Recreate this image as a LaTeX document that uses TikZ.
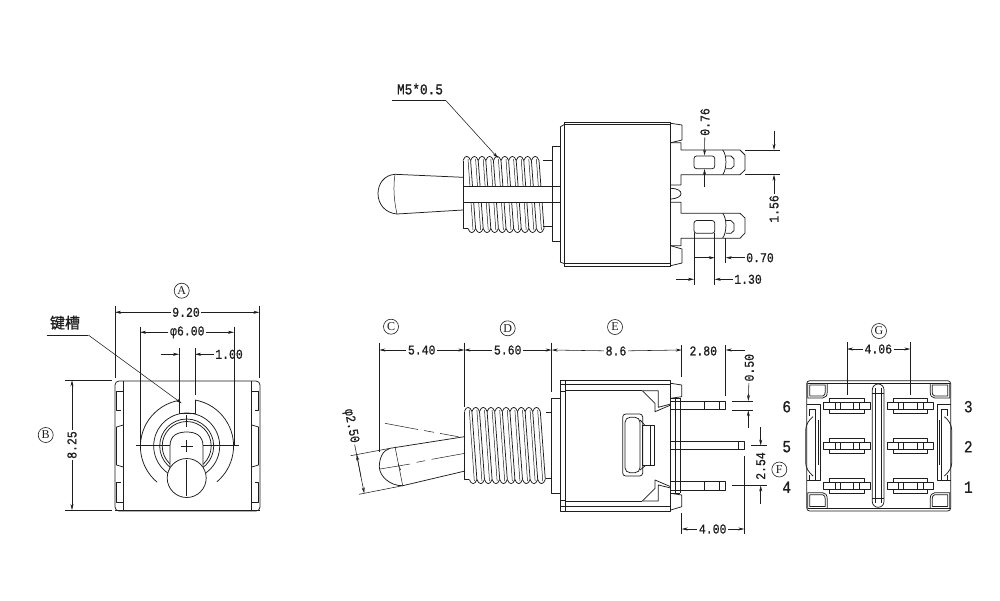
\documentclass[tikz,border=0pt]{standalone}
\usepackage{fontspec}
\setmainfont{Liberation Mono}[FakeBold=0.7,FakeStretch=0.85]
\newfontfamily\cjkfont{Noto Sans CJK SC}[FakeBold=1]
\newfontfamily\serifletter{Liberation Serif}
\usetikzlibrary{arrows.meta}
\definecolor{drawColor}{RGB}{30,30,30}
\tikzset{
  part/.style={draw=drawColor,line width=0.75pt,line join=round},
  thin part/.style={draw=drawColor,line width=0.5pt},
  extline/.style={draw=drawColor,line width=0.55pt},
  dimtip/.style={draw=drawColor,line width=0.55pt,-{Stealth[length=6pt,width=3pt]}},
  dimtext/.style={text=drawColor,inner sep=1.5pt,font=\fontsize{13.5}{13.5}\selectfont},
  pinno/.style={text=drawColor,inner sep=0pt,font=\fontsize{17}{17}\selectfont},
  circlab/.style={draw=drawColor,line width=0.6pt,circle,inner sep=0pt,minimum size=15pt,text=drawColor,font=\serifletter\fontsize{12}{12}\selectfont},
}
% thread: start x, top y, bottom y
\newcommand{\threadbody}[3]{
\foreach \t in {0,...,9} {
\path[part] ({#1+7.6*\t},#2+3.5) .. controls ({#1+7.6*\t+2},#2-2) and ({#1+7.6*\t+5.6},#2-2) .. ({#1+7.6*\t+7.6},#2+3.5);
\path[part] ({#1+7.6*\t+5},#3-3.5) .. controls ({#1+7.6*\t+7},#3+2) and ({#1+7.6*\t+10.6},#3+2) .. ({#1+7.6*\t+12.6},#3-3.5);
\path[part] ({#1+7.6*\t+7.6},#2+3.5) -- ({#1+7.6*\t+12.6},#3-3.5);
\path[thin part] ({#1+7.6*\t+5},#2+2) -- ({#1+7.6*\t+10},#3-2);
}
\path[part] (#1,#2+3.5) -- (#1,#3-3.5) -- (#1+5,#3-3.5);
}
\begin{document}
\begin{tikzpicture}[x=1pt,y=-1pt]
\path[use as bounding box,fill=white] (0,0) rectangle (1000,600);

% top view
\threadbody{463}{157}{232}
\path[part,fill=white] (463,186) rectangle (560,202.7);
\path[part] (543,160.7) -- (552,160.7);
\path[part] (543,226) -- (552,226);
\path[part] (552,146.7) rectangle (560,241.7);
\path[part] (395,174.3) .. controls (384,175) and (378,184) .. (378,193.5) .. controls (378,204) and (385,213) .. (397,214);
\path[thin part] (395,174.3) .. controls (393,187) and (394,201) .. (397,214);
\path[part] (395,174.3) -- (463,177.3);
\path[part] (397,214) -- (463,210);
\path[part] (560,127) -- (560,262);
\path[part] (564,122.3) -- (564,266);
\path[part] (560,127) -- (564,124.7);
\path[part] (560,262) -- (564,263.5);
\path[part] (564,122.3) -- (670.7,122.3);
\path[part] (564,124.7) -- (670.7,124.7);
\path[part] (564,263.5) -- (670.7,263.5);
\path[part] (564,266) -- (670.7,266);
\path[part] (670.7,122.3) -- (670.7,266);
\path[part] (670.7,123.3) -- (682,125) -- (682,140) -- (670.7,142.7);
\path[part] (670.7,245.7) -- (682,249) -- (682,263) -- (670.7,265.7);
\path[part] (670.7,142.7) -- (681,142.7) -- (681,150) -- (740,150) -- (745,155) -- (745,170) -- (740,174.7) -- (681,174.7) -- (681,185) -- (670.7,185);
\path[part] (670.7,188.3) .. controls (678,188.5) and (681,191) .. (681,193.5) .. controls (681,196) and (678,198.5) .. (670.7,199);
\path[part] (670.7,202.3) -- (681,202.3) -- (681,213.3) -- (740,213.3) -- (745,218) -- (745,233) -- (740,238.3) -- (681,238.3) -- (681,245.7) -- (670.7,245.7);
\foreach \yy in {0,63.3} {
\path[part,rounded corners=2.5pt] (694,156+\yy*1.02) rectangle (714.7,168.7+\yy*1.02);
\path[part] (726,156+\yy*1.02) -- (731,156+\yy*1.02) -- (734,159+\yy*1.02) -- (734,166+\yy*1.02) -- (731,168.7+\yy*1.02) -- (726,168.7+\yy*1.02);
\path[part] (722.7,150+\yy) .. controls (727,155+\yy) and (727,169+\yy) .. (722.7,174.7+\yy);
}
\node[dimtext,font=\fontsize{15}{15}\selectfont] (mfive) at (420,89) {M5*0.5};
\coordinate (mfivea) at (392,100.7);
\coordinate (mfiveb) at (446,100.7);
\coordinate (mfivec) at (498,158);
\path[extline] (mfivea) -- (mfiveb);
\path[dimtip] (mfiveb) -- (mfivec);
\node[dimtext,rotate=90] (dimslot) at (705,122) {0.76};
\coordinate (slottop) at (704.5,155.5);
\coordinate (slotlow) at (704.5,169);
\coordinate (slotend) at (704.5,187);
\path[dimtip] (dimslot) -- (slottop);
\path[dimtip] (slotend) -- (slotlow);
\node[dimtext,rotate=90] (dimtab) at (774,209) {1.56};
\coordinate (tabtop) at (774,150);
\coordinate (tablow) at (774,174.7);
\coordinate (tabend) at (774,130.7);
\path[extline] (745,150) -- (780,150);
\path[extline] (745,174.7) -- (780,174.7);
\path[dimtip] (tabend) -- (tabtop);
\path[dimtip] (dimtab) -- (tablow);
\node[dimtext] (dimgap) at (760,257.7) {0.70};
\node[dimtext] (dimhole) at (748,279.3) {1.30};
\coordinate (gapr) at (725.7,257.7);
\coordinate (gapl) at (714.7,257.7);
\coordinate (gaps) at (694,257.7);
\coordinate (holel) at (694,279.3);
\coordinate (holer) at (714.7,279.3);
\coordinate (holes) at (676,279.3);
\path[extline] (725.7,238) -- (725.7,263);
\path[extline] (694,233) -- (694,285);
\path[extline] (714.7,233) -- (714.7,285);
\path[dimtip] (dimgap) -- (gapr);
\path[dimtip] (gaps) -- (gapl);
\path[dimtip] (dimhole) -- (holer);
\path[dimtip] (holes) -- (holel);

% front view
\path[part,rounded corners=4pt] (115,381) rectangle (260,511);
\path[part] (115,510) -- (260,510);
\foreach \sx in {1,-1} {
\begin{scope}[shift={(187.5,0)},xscale=\sx]
\path[part] (-64.2,381) -- (-64.2,511);
\path[part] (-71,391) -- (-64.2,391);
\path[part] (-71,391) -- (-71,410) -- (-67,410);
\path[part] (-64.2,425) -- (-71,427) -- (-71,465) -- (-64.2,467);
\path[part] (-67,482) -- (-71,482) -- (-71,502) -- (-64.2,502);
\end{scope}
}
\path[part] (179,400.4) arc[start angle=100,end angle=230,radius=46.7pt];
\path[part] (195,400) arc[start angle=80,end angle=-50,radius=46.7pt];
\path[part] (179,400.4) -- (179,413.3) -- (195,413.3) -- (195,400);
\path[part] (186.7,446) circle[radius=33pt];
\path[part] (186.7,446) circle[radius=27pt];
\path[part] (186.7,446) circle[radius=24.5pt];
\path[part,fill=white] (170,478) -- (170,446) .. controls (170,435) and (178,432) .. (186.7,432) .. controls (195,432) and (203,435) .. (203,446) -- (203,478);
\path[part,fill=white] (186.7,478) circle[radius=19.5pt];
\path[thin part] (136,445) -- (170,445);
\path[thin part] (203,445) -- (239.3,445);
\path[thin part] (186.7,415) -- (186.7,427);
\path[thin part] (186.7,440) -- (186.7,452);
\path[thin part] (180.7,446) -- (192.7,446);
\path[thin part] (186.7,460) -- (186.7,496);
\node[circlab] (lettera) at (181.7,290.7) {A};
\node[circlab] (letterb) at (45.7,435) {B};
\node[dimtext] (dimwide) at (186,312.3) {9.20};
\node[dimtext] (dimdia) at (187.3,332.3) {φ6.00};
\node[dimtext] (dimkey) at (229,354.3) {1.00};
\node[dimtext,rotate=90] (dimhigh) at (72,445) {8.25};
\coordinate (widel) at (115,312.3);
\coordinate (wider) at (259.3,312.3);
\coordinate (dial) at (140,332.3);
\coordinate (diar) at (234,332.3);
\coordinate (keyl) at (179,354.3);
\coordinate (keyr) at (195,354.3);
\coordinate (keys) at (160.7,354.3);
\coordinate (hight) at (72,380.3);
\coordinate (highb) at (72,510);
\path[extline] (115,305.7) -- (115,378);
\path[extline] (259.3,305.7) -- (259.3,378);
\path[extline] (140,326.7) -- (140,445);
\path[extline] (234,326.7) -- (234,445);
\path[extline] (179,348) -- (179,405);
\path[extline] (195,348) -- (195,395);
\path[extline] (65,380.3) -- (111.7,380.3);
\path[extline] (65,510) -- (111.7,510);
\path[dimtip] (dimwide) -- (widel);
\path[dimtip] (dimwide) -- (wider);
\path[dimtip] (dimdia) -- (dial);
\path[dimtip] (dimdia) -- (diar);
\path[dimtip] (keys) -- (keyl);
\path[dimtip] (dimkey) -- (keyr);
\path[dimtip] (dimhigh) -- (hight);
\path[dimtip] (dimhigh) -- (highb);
\node[text=drawColor,inner sep=0pt,font=\cjkfont\fontsize{15}{15}\selectfont] (keyway) at (65,322.7) {键槽};
\coordinate (keywaya) at (46.7,335);
\coordinate (keywayb) at (88.3,335);
\coordinate (keywayc) at (181.7,403.3);
\path[extline] (keywaya) -- (keywayb);
\path[dimtip] (keywayb) -- (keywayc);

% side view
\threadbody{464.3}{408}{483}
\path[part] (546,412.7) -- (551.7,412.7);
\path[part] (546,478.3) -- (551.7,478.3);
\path[part] (551.7,398.3) rectangle (560,493.3);
\path[part] (464.3,436.7) -- (390,448.3);
\path[part] (465,471) -- (402.7,485.7);
\path[part] (390,448.3) .. controls (383,450) and (379.3,458) .. (379.3,466.7) .. controls (379.3,476) and (390,486) .. (402.7,485.7);
\path[thin part] (395,446.7) -- (402.7,485.7);
\path[thin part] (465,453.3) -- (431.7,459.3);
\path[thin part] (425,460.7) -- (416.7,462.3);
\path[thin part] (410,464) -- (380,469);
\path[thin part] (398,464) -- (400.7,470);
\path[thin part] (385,423.3) -- (418,429.5);
\path[thin part] (424,430.5) -- (434,432.3);
\path[thin part] (440,433.4) -- (458.3,436.7);
\path[extline] (350.7,455.7) -- (390,448.3);
\path[extline] (359,494.3) -- (402.7,485.7);
\path[part] (560,380.7) rectangle (670.7,511);
\path[part] (560,384) -- (670.7,384);
\path[part] (560,506.7) -- (670.7,506.7);
\path[part] (565,380.7) -- (565,511);
\path[part] (560,391.7) -- (565,391.7);
\path[part] (560,500) -- (565,500);
\path[part,line width=1pt] (565,390.7) -- (642.3,390.7);
\path[part,line width=1pt] (565,501) -- (642.3,501);
\path[part] (642.3,390.7) -- (658.3,390.7) -- (658.3,407.3) -- (670.7,404);
\path[part] (642.3,390.7) -- (655,403.3) -- (655,411.7) -- (670.7,405);
\path[part] (642.3,501) -- (658.3,501) -- (658.3,485) -- (670.7,488);
\path[part] (642.3,501) -- (655,488.3) -- (655,480) -- (670.7,486.7);
\path[part,rounded corners=3pt] (622.7,414) rectangle (642.7,476);
\path[part,rounded corners=5pt] (625,417.3) rectangle (640,472.7);
\path[part] (642.7,425.7) rectangle (654.3,465.7);
\path[thin part] (650,425.7) -- (650,465.7);
\path[part] (640,420) .. controls (645,425) and (645,425.7) .. (645,425.7);
\path[part] (640,470) .. controls (645,466) and (645,465.7) .. (645,465.7);
\path[part] (670.7,383.3) -- (681.7,385) -- (681.7,396.7) -- (670.7,398.3);
\path[part] (670.7,493.3) -- (681.7,495) -- (681.7,506.7) -- (670.7,510);
\path[part] (675,398.3) -- (675,493.3);
\path[part] (680,398.3) -- (680,493.3);
\path[part] (670.7,398.3) -- (680,398.3);
\path[part] (670.7,493.3) -- (680,493.3);
\foreach \yy in {401.3,481.7} {
\path[part] (670.7,\yy) rectangle (680,\yy+8.5);
\path[part] (680,\yy) rectangle (725.7,\yy+8.5);
\path[part] (704,\yy) -- (704,\yy+8.5);
\path[part] (719,\yy) -- (719,\yy+8.5);
}
\path[part] (670.7,441.7) rectangle (680,449.3);
\path[part] (680,441.7) rectangle (744.3,449.3);
\path[part] (738.3,441.7) -- (738.3,449.3);
\node[circlab] (letterc) at (391,326.7) {C};
\node[circlab] (letterd) at (507.7,328.3) {D};
\node[circlab] (lettere) at (615,327) {E};
\node[circlab] (letterf) at (779.3,469.5) {F};
\node[dimtext] (dimknob) at (421.7,350) {5.40};
\node[dimtext] (dimthread) at (507.7,350) {5.60};
\node[dimtext] (dimcase) at (616,351) {8.6};
\node[dimtext] (dimtail) at (703.3,351) {2.80};
\node[dimtext,rotate=90] (dimpin) at (749.3,367.7) {0.50};
\node[dimtext,rotate=90] (dimpitch) at (760.7,466) {2.54};
\node[dimtext] (dimleg) at (712.7,529) {4.00};
\node[dimtext,rotate=-79] (dimball) at (351,426) {φ2.50};
\coordinate (rowa) at (379.3,350);
\coordinate (rowb) at (464.3,350);
\coordinate (rowc) at (551.7,350);
\coordinate (rowd) at (681.7,350);
\coordinate (rowe) at (725.7,350);
\coordinate (rowf) at (745,350);
\path[extline] (379.3,342.7) -- (379.3,451.7);
\path[extline] (464.3,342.7) -- (464.3,406.7);
\path[extline] (551.7,342.7) -- (551.7,391.7);
\path[extline] (681.7,345) -- (681.7,376.7);
\path[extline] (725.7,345) -- (725.7,396);
\path[dimtip] (dimknob) -- (rowa);
\path[dimtip] (dimknob) -- (rowb);
\path[dimtip] (dimthread) -- (rowb);
\path[dimtip] (dimthread) -- (rowc);
\path[dimtip] (dimcase) -- (rowc);
\path[dimtip] (dimcase) -- (rowd);
\path[dimtip] (rowf) -- (rowe);
\path[extline] (731.7,401.3) -- (753.3,401.3);
\path[extline] (731.7,410) -- (753.3,410);
\coordinate (pintop) at (748.3,401);
\coordinate (pinlow) at (748.3,410.3);
\coordinate (pinend) at (748.3,428);
\path[dimtip] (dimpin) -- (pintop);
\path[dimtip] (pinend) -- (pinlow);
\path[extline] (750.7,445.7) -- (766.7,445.7);
\path[extline] (731.7,485.3) -- (766.7,485.3);
\coordinate (pitchtop) at (760.7,445.5);
\coordinate (pitchlow) at (760.7,485.5);
\coordinate (pitchstart) at (760.7,427);
\coordinate (pitchend) at (760.7,504);
\path[dimtip] (pitchstart) -- (pitchtop);
\path[dimtip] (pitchend) -- (pitchlow);
\path[extline] (681.7,513) -- (681.7,534);
\path[extline] (744.3,456) -- (744.3,534);
\coordinate (legl) at (681.7,529);
\coordinate (legr) at (744.3,529);
\path[dimtip] (dimleg) -- (legl);
\path[dimtip] (dimleg) -- (legr);
\coordinate (balltop) at (356.7,454.5);
\coordinate (ballmid) at (361,477);
\coordinate (balllow) at (364.3,493.3);
\path[dimtip] (ballmid) -- (balltop);
\path[dimtip] (ballmid) -- (balllow);
\path[extline] (dimball) -- (ballmid);

% rear view
\path[part,rounded corners=3pt] (806.7,380.7) rectangle (950.7,511);
\path[part] (808,383) -- (949.5,383);
\path[part] (808,508.7) -- (949.5,508.7);
\foreach \sx in {1,-1} {
\begin{scope}[shift={(878.7,0)},xscale=\sx]
\path[part] (-71,383) -- (-71,398) -- (-56,398) .. controls (-53,397.5) and (-51.5,396) .. (-51.5,392) -- (-51.5,383);
\path[part] (-69,385) -- (-69,396) -- (-56,396) .. controls (-54,395.5) and (-53.5,394) .. (-53.5,392) -- (-53.5,385) -- cycle;
\path[part] (-71,508.7) -- (-71,492.7) -- (-56,492.7) .. controls (-53,493) and (-51.5,495) .. (-51.5,499) -- (-51.5,508.7);
\path[part] (-69,506.5) -- (-69,494.7) -- (-56,494.7) .. controls (-54,495) and (-53.5,497) .. (-53.5,499) -- (-53.5,506.5) -- cycle;
\path[part] (-72,404.3) -- (-58.7,404.3) -- (-58.7,480) -- (-72,480);
\path[part] (-69,409.3) -- (-63,409.3) -- (-63,480);
\path[part] (-60.7,420) -- (-60.7,465);
\path[part] (-65.7,416.7) .. controls (-70,420) and (-73,425) .. (-73,430) -- (-73,463) .. controls (-73,468) and (-70,472) .. (-65.7,476);
\path[part] (-69,409.3) -- (-69,416);
\path[part] (-69,475) -- (-69,480);
\end{scope}
}
\path[part,rounded corners=5.8pt] (872.3,384) rectangle (884,507.3);
\path[part] (875.3,388) -- (875.3,503);
\path[part] (881,388) -- (881,503);
\path[thin part] (872.3,393) -- (884,393);
\path[thin part] (872.3,498) -- (884,498);
\foreach \cx in {846.7,910.3} {
\foreach \cy in {405.7,445.7,485.7} {
\path[part] (\cx-23.3,\cy-3.3) rectangle (\cx+23.3,\cy+3.3);
\path[part] (\cx-17.3,\cy-3.3) -- (\cx-17.3,\cy-7.5) -- (\cx+17.3,\cy-7.5) -- (\cx+17.3,\cy-3.3);
\path[part] (\cx-17.3,\cy+3.3) -- (\cx-17.3,\cy+7.5) -- (\cx+17.3,\cy+7.5) -- (\cx+17.3,\cy+3.3);
\path[part] (\cx-11.7,\cy-3.3) -- (\cx-11.7,\cy+3.3);
\path[part] (\cx-6.7,\cy-3.3) -- (\cx-6.7,\cy+3.3);
\path[part] (\cx+6.7,\cy-3.3) -- (\cx+6.7,\cy+3.3);
\path[part] (\cx+12.7,\cy-3.3) -- (\cx+12.7,\cy+3.3);
}
}
\node[circlab] (letterg) at (879,331) {G};
\node[dimtext] (dimrow) at (878.3,349) {4.06};
\coordinate (rowl) at (847,349);
\coordinate (rowr) at (910.3,349);
\path[extline] (847,342.3) -- (847,395);
\path[extline] (910.3,342.3) -- (910.3,395);
\path[dimtip] (dimrow) -- (rowl);
\path[dimtip] (dimrow) -- (rowr);
\node[pinno] (pinsix) at (786.7,406.7) {6};
\node[pinno] (pinfive) at (786.7,446.7) {5};
\node[pinno] (pinfour) at (786.7,487.3) {4};
\node[pinno] (pinthree) at (968.3,406.7) {3};
\node[pinno] (pintwo) at (968.3,446.7) {2};
\node[pinno] (pinone) at (968.3,487.3) {1};
\end{tikzpicture}
\end{document}
